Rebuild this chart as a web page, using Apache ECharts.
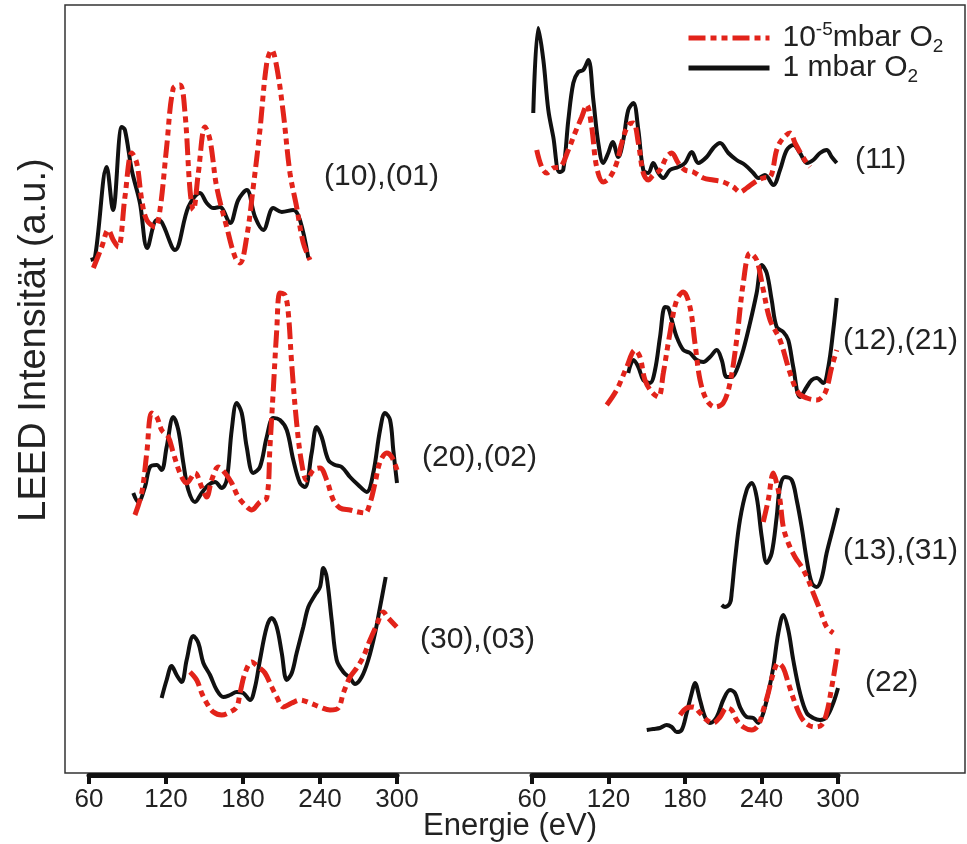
<!DOCTYPE html>
<html>
<head>
<meta charset="utf-8">
<script src="https://cdn.jsdelivr.net/npm/echarts@6/dist/echarts.min.js"></script>
<style>html,body{margin:0;padding:0;background:#fff}#c{width:967px;height:844px}</style>
</head>
<body>
<div id="c"></div>
<script>
// ---------- data (energy in eV, intensity in a.u. incl. vertical offset) ----------
const energyTicks = [60, 120, 180, 240, 300];
const seriesNames = ['10-5 mbar O2', '1 mbar O2'];

// (10),(01) – left panel
const E10_hi = [61.3,64.7,73.8,78.7,85.5,88,93.3,99.7,105.4,112.8,116.6,127,137.4,146.5,151.7,156.9,162,169.9,176.3,182.9,189.4,195.8,203.6,210.2,219.2,224.4,230.9];
const I10_hi = [513,516,606,563,646,643,603,570,525,553,551,523,566,580,570,565,566,550,573,583,556,543,565,561,563,553,515];
const E10_lo = [63.4,69.9,75,78.9,82.8,88,93.3,97.2,101.1,105,111.4,115.3,120.5,125.7,130.9,134.8,138.7,141.3,145.2,150.4,154.3,159.5,167.3,173.8,177.7,182.9,188,193.2,198.5,202.4,206.3,211.4,216.6,221.8,227,232.2];
const I10_lo = [505,526,543,533,526,576,620,610,573,553,546,563,626,685,688,660,583,563,600,646,633,586,546,516,510,536,586,643,710,723,706,660,600,566,530,513];

// (20),(02) – left panel
const E20_hi = [94.5,98.4,103.6,107.5,112.8,116.6,120.5,125.7,129.6,133.5,137.4,142.6,147.8,153,158.2,163.4,167.3,171.2,175.1,179,182.9,188,193.2,198.5,203.6,208.8,214.1,219.2,224.4,228.3,233.5,237.4,241.3,246.5,251.7,256.9,263.4,269.8,276.4,281.5,286.8,290.7,294.6,297.1,300];
const I20_hi = [280,271,286,306,308,303,326,356,343,310,283,271,280,288,291,285,293,343,370,360,326,300,306,336,355,353,343,313,290,286,320,346,336,313,308,306,296,288,281,300,343,360,353,323,290];
const E20_lo = [95.8,101.1,105,108.9,112.8,116.6,121.8,125.7,130.9,136.1,142.6,147.8,151.7,155.6,160.8,166,171.2,176.3,181.6,186.8,193.2,198.5,201,203.6,206.3,208.8,212.7,215.3,217.9,221.8,225.7,229.6,234.8,240,245.2,250.4,255.6,263.4,269.8,275.1,279,282.9,286.8,292,295.9,300];
const I20_lo = [258,280,320,360,356,343,336,320,300,290,300,286,276,293,306,300,290,276,268,263,271,275,326,383,443,480,478,460,410,350,310,293,303,305,293,273,265,263,261,260,270,290,311,320,316,303];

// (30),(03) – left panel
const E30_hi = [116.6,120.5,124.4,128.3,132.2,136.1,141.3,145.2,149.1,154.3,159.5,164.7,169.9,175.1,180.2,185.5,189.4,193.2,198.5,202.4,206.3,210.2,214.1,218,221.8,227,230.9,236.1,240,242.6,245.2,249.1,253,258.2,263.4,267.3,272.5,277.6,282.9,286.8,291.2];
const I30_hi = [75,93,107,98,91,113,137,130,110,98,83,76,78,81,80,73,86,113,146,155,146,120,93,100,120,146,166,178,186,205,196,153,113,101,95,89,96,113,140,166,196];
const E30_lo = [138.7,143.9,147.8,151.7,156.9,163.4,169.9,175.1,177.7,181.6,186.8,191.9,197.1,202.4,206.3,211.4,218,224.4,232.2,240,247.8,254.3,258.2,263.4,268.6,273.7,279,284.2,289.3,293.2,299.8];
const I30_lo = [101,93,80,70,61,58,61,66,80,100,111,106,100,86,76,66,70,73,70,66,63,65,80,96,105,116,133,148,161,155,146];

// (11) – right panel
const E11_hi = [61,64.9,68.9,72.8,76.7,81.4,84.5,88.5,92.4,96.3,100.2,104.2,108.1,112,115.9,119.8,123.3,127.7,131.6,135.5,139.5,143.4,147.3,151.2,155.1,159.1,163,168.2,174.7,180,185.3,190.4,197,202.2,207.5,214,220.5,227.1,233.6,237.5,242.7,249.3,254.5,259.8,265,270.2,275.5,280.6,285.9,291.1,295.1,299];
const I11_hi = [660,745,713,663,636,601,603,653,690,701,703,713,673,630,610,620,631,616,633,663,670,643,603,600,610,600,595,603,606,610,621,610,616,625,630,620,613,608,600,595,598,588,603,623,628,620,610,613,620,623,616,610];
const E11_lo = [63.7,67.6,71.5,76.7,82,88.5,93.7,99,102.9,106.8,110.7,115.9,121.2,126.4,130.4,135.5,139.5,143.4,147.3,151.2,155.1,160.4,165.6,169.6,174.7,180,186.5,194.4,202.2,210,217.9,223.1,228.4,234.9,241.4,246.7,251.9,255.8,262.4,266.3,271.5,275.5,278];
const I11_lo = [623,606,600,605,606,623,640,656,668,646,606,591,596,610,630,648,650,630,600,593,598,603,616,620,610,603,601,595,593,591,586,581,585,591,595,596,623,633,640,630,618,610,606];

// (12),(21) – right panel
const E12_hi = [135.5,139.5,143.4,147.3,152.5,156.5,160.4,164.3,166.9,169.6,173.5,178.7,183.9,189.2,194.4,199.6,204.9,208.8,212.7,216.6,220.5,225.7,231,236.2,240.2,244.1,248,251.9,257.1,261,264.9,270.2,275.5,279.4,283.3,288.5,292.4,296.3,299];
const I12_hi = [400,413,406,393,390,403,436,466,465,453,436,423,420,413,411,416,423,413,396,396,403,423,450,480,508,500,473,446,441,433,406,376,386,393,395,390,406,443,475];
const E12_lo = [118.6,126.4,134.3,140.8,144.7,148.6,153.9,159.1,163,168.2,173.5,178.7,183.9,187.8,191.8,197,203.5,210,215.3,220.5,225.7,231,236.2,241.4,246.7,254.5,262.4,268.9,275.5,283.3,289.8,295.1,299];
const I12_lo = [368,383,406,423,416,393,381,376,400,440,473,481,466,430,393,373,366,370,390,433,490,520,513,483,453,433,400,380,375,373,380,406,423];

// (13),(31) – right panel
const E13_hi = [208.8,211.4,215.3,216.6,219.2,223.1,228.4,232.3,236.2,240.2,244.1,248,251.9,254.5,258.4,263.7,267.6,271.5,275.5,279.4,283.3,287.2,291.1,296.3,300];
const I13_hi = [168,166,170,180,213,253,283,290,276,236,210,220,256,286,296,293,273,246,213,190,186,195,220,246,265];
const E13_lo = [241.4,245.3,249.3,251.9,254.5,257.1,261,266.3,271.5,276.7,280.6,285.9,291.1,296.3];
const I13_lo = [251,273,300,290,273,246,230,216,206,193,180,163,146,140];

// (22) – right panel
const E22_hi = [150,155.1,160.4,165.6,169.6,173.5,177.4,181.3,185.3,187.8,191.8,195.7,199.6,204.9,210,215.3,219.2,223.1,228.4,233.6,237.5,241.4,245.3,249.3,253.2,257.1,261,264.9,270.2,275.5,280.6,285.9,291.1,296.3,300];
const I22_hi = [43,44,45,48,46,41,43,60,80,90,73,56,50,56,73,83,80,66,56,55,50,60,80,106,140,158,143,113,80,60,55,53,56,70,85];
const E22_lo = [176.1,181.3,186.5,191.8,197,202.2,207.5,212.7,216.6,220.5,225.7,232.3,237.5,241.4,245.3,249.3,253.2,257.1,261,266.3,271.5,276.7,282,287.2,291.1,295.1,299,300];
const I22_lo = [58,65,66,60,53,50,56,65,63,53,46,43,48,63,80,100,110,105,90,70,55,48,46,48,60,86,116,126];

const curveLabels = ['(10),(01)', '(20),(02)', '(30),(03)', '(11)', '(12),(21)', '(13),(31)', '(22)'];

// ---------- chart ----------
const FONT = '"Liberation Sans", Arial, sans-serif';
const RED = '#e2231a', BLACK = '#111';
const DASH = [17, 5, 6, 5, 6, 5];
const zip = (e, v) => e.map((x, i) => [x, v[i]]);

function blackSeries(e, v, panel) {
  return { name: seriesNames[1], type: 'line', xAxisIndex: panel, yAxisIndex: panel,
    data: zip(e, v), symbol: 'none', smooth: 0.35, z: 3,
    lineStyle: { color: BLACK, width: 4 }, itemStyle: { color: BLACK } };
}
function redSeries(e, v, panel) {
  return { name: seriesNames[0], type: 'line', xAxisIndex: panel, yAxisIndex: panel,
    data: zip(e, v), symbol: 'none', smooth: 0.35, z: 4,
    lineStyle: { color: RED, width: 5, type: DASH }, itemStyle: { color: RED } };
}

const xAxisBase = (gi) => ({
  gridIndex: gi, type: 'value', min: energyTicks[0], max: energyTicks[energyTicks.length - 1], interval: 60,
  axisLine: { show: true, onZero: false, lineStyle: { color: BLACK, width: 5 } },
  axisTick: { show: true, length: 9, lineStyle: { color: BLACK, width: 4 } },
  axisLabel: { fontSize: 26, color: '#222', fontFamily: FONT, margin: 12 },
  splitLine: { show: false }
});
const yAxisBase = (gi) => ({ gridIndex: gi, type: 'value', min: -2, max: 768, show: false });

const labelPos = [[324, 177], [422, 458], [420, 640], [855, 160], [843, 341], [843, 551], [865, 683]];
const labelTexts = curveLabels.map((t, i) => ({
  type: 'text', x: labelPos[i][0], y: labelPos[i][1], silent: true,
  style: { text: t, fontSize: 30, fontFamily: FONT, fill: '#222', align: 'left', verticalAlign: 'middle', textAlign: 'left', textVerticalAlign: 'middle' }
}));

const option = {
  animation: false,
  backgroundColor: '#fff',
  grid: [
    { left: 89, width: 308, top: 5, height: 770 },
    { left: 532, width: 306, top: 5, height: 770 }
  ],
  xAxis: [xAxisBase(0), xAxisBase(1)],
  yAxis: [yAxisBase(0), yAxisBase(1)],
  legend: {
    data: [seriesNames[0], seriesNames[1]],
    orient: 'vertical', left: 686, top: 20, itemWidth: 81, itemHeight: 20, itemGap: -3, padding: 0,
    selectedMode: false,
    itemStyle: { opacity: 0 },
    lineStyle: { width: 5 },
    formatter: function (name) {
      return name === seriesNames[0] ? '{n|10}{sup|-5}{n|mbar O}{sub|2}' : '{n|1 mbar O}{sub|2}';
    },
    textStyle: {
      fontFamily: FONT, fontSize: 30, color: '#222', padding: [0, 0, 0, 8],
      rich: {
        n: { fontFamily: FONT, fontSize: 30, color: '#222', lineHeight: 36 },
        sup: { fontFamily: FONT, fontSize: 19, color: '#222', lineHeight: 19, verticalAlign: 'top' },
        sub: { fontFamily: FONT, fontSize: 19, color: '#222', lineHeight: 19, verticalAlign: 'bottom' }
      }
    }
  },
  graphic: [
    { type: 'rect', silent: true, z: 0, shape: { x: 65, y: 5, width: 900, height: 768 },
      style: { fill: 'none', stroke: '#333', lineWidth: 1.5 } },
    { type: 'text', x: 35, y: 340, rotation: Math.PI / 2, silent: true,
      style: { text: 'LEED Intensität (a.u.)', fontSize: 38, fontFamily: FONT, fill: '#222', align: 'center', verticalAlign: 'middle', textAlign: 'center', textVerticalAlign: 'middle' } },
    { type: 'text', x: 510, y: 826, silent: true,
      style: { text: 'Energie (eV)', fontSize: 31, fontFamily: FONT, fill: '#222', align: 'center', verticalAlign: 'middle', textAlign: 'center', textVerticalAlign: 'middle' } }
  ].concat(labelTexts),
  series: [
    blackSeries(E10_hi, I10_hi, 0), redSeries(E10_lo, I10_lo, 0),
    blackSeries(E20_hi, I20_hi, 0), redSeries(E20_lo, I20_lo, 0),
    blackSeries(E30_hi, I30_hi, 0), redSeries(E30_lo, I30_lo, 0),
    blackSeries(E11_hi, I11_hi, 1), redSeries(E11_lo, I11_lo, 1),
    blackSeries(E12_hi, I12_hi, 1), redSeries(E12_lo, I12_lo, 1),
    blackSeries(E13_hi, I13_hi, 1), redSeries(E13_lo, I13_lo, 1),
    blackSeries(E22_hi, I22_hi, 1), redSeries(E22_lo, I22_lo, 1)
  ]
};

const chart = echarts.init(document.getElementById('c'), null, { renderer: 'canvas' });
chart.setOption(option);
</script>
</body>
</html>
